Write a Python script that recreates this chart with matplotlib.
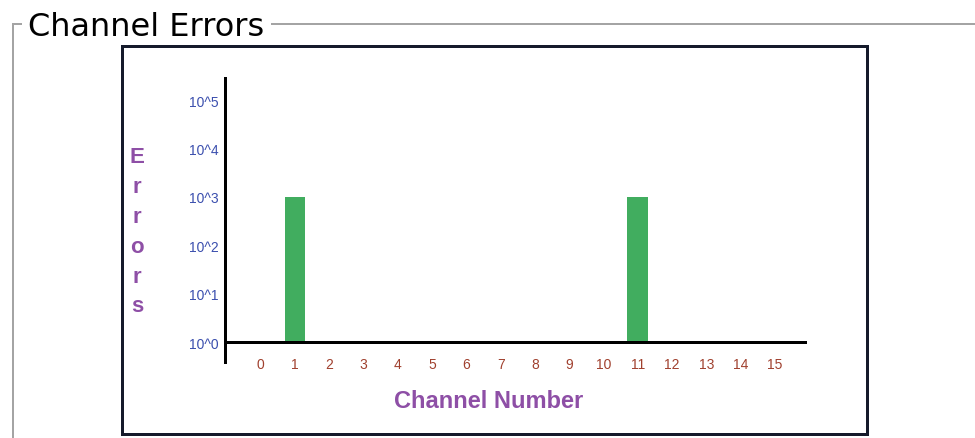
import numpy as np
import matplotlib
matplotlib.use("Agg")
import matplotlib.pyplot as plt
from matplotlib.lines import Line2D
from matplotlib.patches import Rectangle

# data
channels = list(range(16))
errors = [0, 1000, 0, 0, 0, 0, 0, 0, 0, 0, 0, 1000, 0, 0, 0, 0]
ytick_vals = [1, 10, 100, 1000, 10000, 100000]
ytick_labels = ["10^0", "10^1", "10^2", "10^3", "10^4", "10^5"]
xtick_labels = [str(c) for c in channels]

W, H = 975, 439
PT = 0.72  # px -> pt at dpi 100


def fx(x):
    return x / W


def fy(y):
    return 1 - y / H


fig = plt.figure(figsize=(W / 100, H / 100), dpi=100)
fig.patch.set_facecolor("white")

# fieldset frame
frame_col = "#a4a4a4"
fig.add_artist(Line2D([fx(13), fx(13)], [fy(25), fy(439)], color=frame_col, lw=2 * PT))
fig.add_artist(Line2D([fx(13), fx(21)], [fy(25), fy(25)], color=frame_col, lw=2 * PT))
fig.add_artist(Line2D([fx(272), fx(975)], [fy(25), fy(25)], color=frame_col, lw=2 * PT))
fig.text(fx(28), fy(36), "Channel Errors", fontsize=23, family="DejaVu Sans",
         fontweight="medium", color="black", ha="left", va="baseline")

# inner chart box
fig.add_artist(Rectangle((fx(122), fy(435)), fx(867) - fx(122), fy(47) - fy(435),
                         transform=fig.transFigure, fill=False,
                         edgecolor="#151a2b", lw=3 * PT))

ax = fig.add_axes([fx(224.5), fy(363), fx(807) - fx(224.5), fy(79) - fy(363)])
ax.set_facecolor("none")
ax.set_yscale("log")
ax.bar(channels, errors, bottom=1, width=0.61, color="#41ad5f", linewidth=0, zorder=2)
ax.axhline(1, color="black", lw=3 * PT, zorder=3)

ax.set_xlim(-1.055, 15.93)
ax.set_ylim(10 ** -0.413, 10 ** 5.455)

for s in ["top", "right", "bottom"]:
    ax.spines[s].set_visible(False)
ax.spines["left"].set_linewidth(3 * PT)
ax.spines["left"].set_color("black")

ax.set_yticks(ytick_vals)
ax.set_yticklabels(ytick_labels)
ax.yaxis.set_minor_locator(matplotlib.ticker.NullLocator())
ax.set_xticks(channels)
ax.set_xticklabels(xtick_labels)
ax.tick_params(axis="y", length=0, pad=4.5, labelsize=10, labelcolor="#3b4fae")
ax.tick_params(axis="x", length=0, pad=-3.6, labelsize=10, labelcolor="#a0402e")
for lab in ax.get_xticklabels() + ax.get_yticklabels():
    lab.set_family("Liberation Sans")

# axis titles
lab_col = "#8e4fa6"
fig.text(fx(489), fy(402), "Channel Number", fontsize=17, fontweight="bold",
         family="Liberation Sans", color=lab_col, ha="center", va="center")
for i, ch in enumerate("Errors"):
    fig.text(fx(137), fy(158 + 29.8 * i), ch, fontsize=16, fontweight="bold",
             family="Liberation Sans", color=lab_col, ha="center", va="center")

fig.savefig("out.png", dpi=100)
